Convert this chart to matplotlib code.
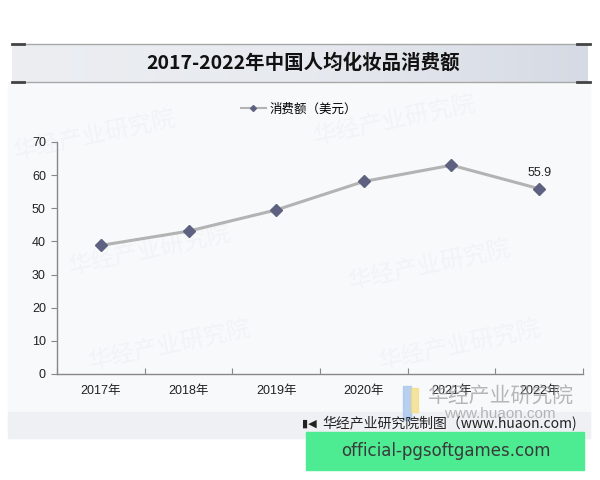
import matplotlib
matplotlib.use("Agg")
import matplotlib.pyplot as plt
from matplotlib.patches import Rectangle
from matplotlib.lines import Line2D
import numpy as np

plt.rcParams['font.family'] = ['Liberation Sans', 'Noto Sans CJK SC', 'DejaVu Sans']

years = ['2017年', '2018年', '2019年', '2020年', '2021年', '2022年']
spend = [38.8, 43.1, 49.5, 58.1, 63.0, 55.9]
title = '2017-2022年中国人均化妆品消费额'
series_name = '消费额（美元）'

W, H = 600, 480


def fx(x):
    return x / W


def fy(y):
    return 1 - y / H


fig = plt.figure(figsize=(6, 4.8), dpi=100)
fig.patch.set_facecolor('white')

# panel background
fig.patches.append(Rectangle((fx(8), fy(438)), fx(582), 356 / H,
                             transform=fig.transFigure, color='#f8f9fb', zorder=0))
# footer band
fig.patches.append(Rectangle((fx(8), fy(438)), fx(582), 26 / H,
                             transform=fig.transFigure, color='#eef0f3', zorder=0))
# title band
grad = np.linspace(0, 1, 256).reshape(1, -1)
tax = fig.add_axes([fx(12), fy(82), fx(576), 38 / H], zorder=1)
cm = matplotlib.colors.LinearSegmentedColormap.from_list('t', ['#eceef2', '#e7eaef', '#d6dae4'])
tax.imshow(grad, aspect='auto', cmap=cm, extent=[0, 1, 0, 1])
tax.set_axis_off()
tax.text(0.505, 0.5, title, ha='center', va='center', fontsize=14,
         fontweight='bold', family=['Noto Sans CJK SC'], color='#111111')
for yy in (44, 82):
    fig.lines.append(Line2D([fx(12), fx(588)], [fy(yy), fy(yy)], transform=fig.transFigure,
                            color='#a8a8a8', lw=1, zorder=2))
    fig.lines.append(Line2D([fx(12), fx(24)], [fy(yy), fy(yy)], transform=fig.transFigure,
                            color='#444444', lw=2, zorder=3))
    fig.lines.append(Line2D([fx(577), fx(590)], [fy(yy), fy(yy)], transform=fig.transFigure,
                            color='#444444', lw=2, zorder=3))

# faint watermarks
for (wx, wy) in [(95, 135), (150, 250), (170, 345), (395, 120), (430, 265), (460, 345)]:
    fig.text(fx(wx), fy(wy), '华经产业研究院', fontsize=17, color='#9aa3b5', alpha=0.07,
             rotation=12, ha='center', va='center', family=['Noto Sans CJK SC'], zorder=1)

ax = fig.add_axes([fx(57), fy(374), 526 / W, 232 / H], zorder=4)
ax.patch.set_alpha(0)
x = np.arange(len(years))
ax.plot(x, spend, color='#b3b3b3', lw=2.2, marker='D', markersize=6,
        markerfacecolor='#5e6280', markeredgecolor='#5e6280', zorder=3)
ax.annotate(f'{spend[-1]:.1f}', (x[-1], spend[-1]), xytext=(0, 7), textcoords='offset points',
            ha='center', va='bottom', fontsize=9, color='#222222')

ax.set_xlim(-0.5, len(years) - 0.5)
ax.set_ylim(0, 70)
ax.set_yticks(np.arange(0, 71, 10))
ax.set_xticks(np.arange(-0.5, len(years), 1.0))
ax.set_xticklabels([])
ax.set_xticks(x, minor=True)
ax.set_xticklabels(years, minor=True, fontsize=9, color='#222222')
ax.tick_params(axis='x', which='minor', length=0, pad=8)
ax.tick_params(axis='x', which='major', length=4, color='#888888', direction='in')
ax.tick_params(axis='y', length=4, color='#888888', labelsize=9, labelcolor='#222222', pad=4)
for s in ('top', 'right'):
    ax.spines[s].set_visible(False)
for s in ('left', 'bottom'):
    ax.spines[s].set_color('#888888')
    ax.spines[s].set_linewidth(1)

# legend
h = Line2D([], [], color='#b3b3b3', lw=1.5, marker='D', markersize=3,
           markerfacecolor='#5e6280', markeredgecolor='#5e6280')
fig.legend([h], [series_name], loc='center', bbox_to_anchor=(fx(299), fy(109)),
           frameon=False, handlelength=2.0, handletextpad=0.3,
           prop={'family': ['Noto Sans CJK SC'], 'size': 9})

# logo watermark at lower right
fig.patches.append(Rectangle((fx(403), fy(420)), 8 / W, 34 / H, transform=fig.transFigure,
                             color='#a9c6ee', alpha=0.8, zorder=5))
fig.patches.append(Rectangle((fx(411), fy(412)), 7 / W, 24 / H, transform=fig.transFigure,
                             color='#f4dc7a', alpha=0.7, zorder=5))
fig.text(fx(500), fy(397), '华经产业研究院', fontsize=15, color='#9a9a9a', alpha=0.7,
         ha='center', va='center', family=['Noto Sans CJK SC'], zorder=5)
fig.text(fx(500), fy(414), 'www.huaon.com', fontsize=11, color='#9a9a9a', alpha=0.7,
         ha='center', va='center', zorder=5)

# footer credit
fig.text(fx(302), fy(424), '▮◀', fontsize=8, color='#222222', ha='left', va='center',
         family=['DejaVu Sans'], zorder=6)
fig.text(fx(322), fy(424), '华经产业研究院制图（www.huaon.com)', fontsize=10, color='#222222',
         ha='left', va='center', family=['Noto Sans CJK SC', 'DejaVu Sans'], zorder=6)

# green overlay banner
fig.patches.append(Rectangle((fx(306), fy(470)), 278 / W, 38 / H, transform=fig.transFigure,
                             color='#4deb92', zorder=7))
fig.text(fx(446), fy(451), 'official-pgsoftgames.com', fontsize=12, color='#3a3a3a',
         ha='center', va='center', family=['DejaVu Sans'], zorder=8)

fig.savefig('out.png', dpi=100)
